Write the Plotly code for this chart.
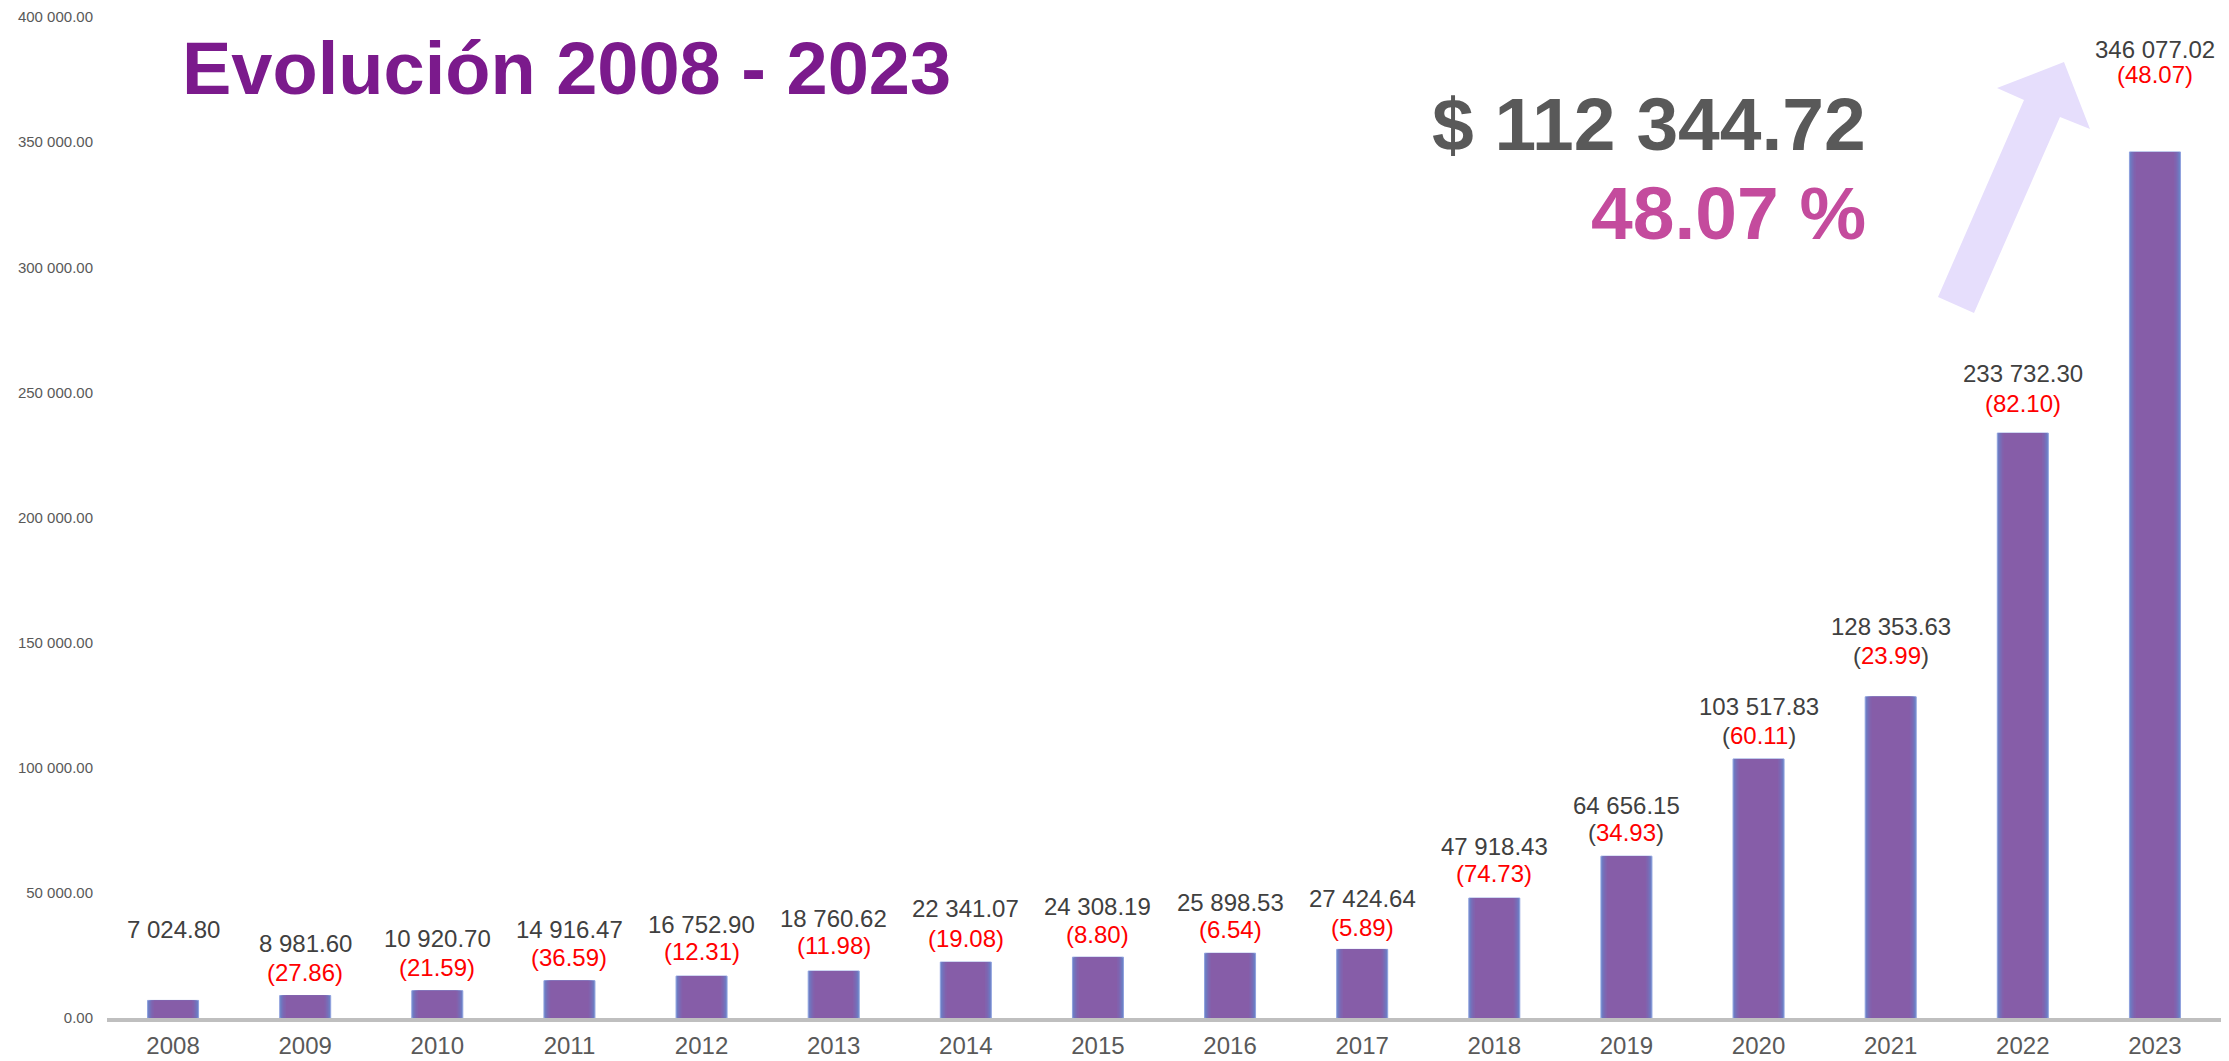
import plotly.graph_objects as go

# ---------------- data ----------------
years = ["2008", "2009", "2010", "2011", "2012", "2013", "2014", "2015",
         "2016", "2017", "2018", "2019", "2020", "2021", "2022", "2023"]
values = [7024.80, 8981.60, 10920.70, 14916.47, 16752.90, 18760.62, 22341.07, 24308.19,
          25898.53, 27424.64, 47918.43, 64656.15, 103517.83, 128353.63, 233732.30, 346077.02]
growth = [None, 27.86, 21.59, 36.59, 12.31, 11.98, 19.08, 8.80,
          6.54, 5.89, 74.73, 34.93, 60.11, 23.99, 82.10, 48.07]
y_ticks = [0, 50000, 100000, 150000, 200000, 250000, 300000, 350000, 400000]
title_text = "Evolución 2008 - 2023"
diff_text = "$ 112 344.72"
pct_text = "48.07 %"

# label placement (pixels above bar top): value line, growth line
value_shift = [71, 52, 52, 51, 52, 53, 54, 51, 51, 51, 52, 51, 52, 70, 60, 102]
growth_shift = [0, 23, 23, 23, 25, 26, 24, 23, 24, 22, 25, 24, 23, 41, 30, 77]
dark_parens = [False] * 11 + [True, True, True, False, False]

# ---------------- layout geometry ----------------
W, H = 2229, 1061
ML, MR, MT, MB = 107, 8, 17, 43
PW, PH = W - ML - MR, H - MT - MB
FONT = "Liberation Sans, Arial, sans-serif"


def px(x):
    return (x - ML) / PW


def py(y):
    return (H - MB - y) / PH


def fmt(v):
    return f"{v:,.2f}".replace(",", " ")


fig = go.Figure()

# gradient-like bars: overlay layers from blue edges to purple centre
layers = [(0.386, "#6C84C6", "#8FA0DE", 1),
          (0.37, "#7079C0", None, 0),
          (0.352, "#766FB9", None, 0),
          (0.334, "#7C68B3", None, 0),
          (0.314, "#8262AD", None, 0),
          (0.29, "#865DA8", None, 0)]
for w, c, lc, lw in layers:
    fig.add_trace(go.Bar(
        x=years, y=values, width=w,
        marker=dict(color=c, line=dict(color=lc or c, width=lw)),
        hoverinfo="skip", showlegend=False))

# data labels (x given as category index)
for i, (v, g, sv, sg, dp) in enumerate(zip(values, growth, value_shift, growth_shift, dark_parens)):
    fig.add_annotation(x=i, y=v, xref="x", yref="y", text=fmt(v), showarrow=False,
                       yshift=sv, yanchor="middle",
                       font=dict(family=FONT, size=24, color="#404040"))
    if g is not None:
        if dp:
            t = f"(<span style='color:#FF0000'>{g:.2f}</span>)"
            col = "#404040"
        else:
            t = f"({g:.2f})"
            col = "#FF0000"
        fig.add_annotation(x=i, y=v, xref="x", yref="y", text=t, showarrow=False,
                           yshift=sg, yanchor="middle",
                           font=dict(family=FONT, size=24, color=col))

# title and highlight texts
fig.add_annotation(x=px(180), y=py(68), xref="paper", yref="paper", text=f"<b>{title_text}</b>",
                   showarrow=False, xanchor="left", yanchor="middle",
                   font=dict(family=FONT, size=74, color="#7B1A8C"))
fig.add_annotation(x=px(1868), y=py(124), xref="paper", yref="paper", text=f"<b>{diff_text}</b>",
                   showarrow=False, xanchor="right", yanchor="middle",
                   font=dict(family=FONT, size=75, color="#595959"))
fig.add_annotation(x=px(1868), y=py(213), xref="paper", yref="paper", text=f"<b>{pct_text}</b>",
                   showarrow=False, xanchor="right", yanchor="middle",
                   font=dict(family=FONT, size=75, color="#C44B9D"))

# decorative arrow
pts = [(1938, 297), (2024, 100), (1997, 88), (2064, 62), (2090, 129), (2060, 117), (1974, 313)]
path = "M " + " L ".join(f"{px(a):.5f},{py(b):.5f}" for a, b in pts) + " Z"
fig.add_shape(type="path", path=path, xref="paper", yref="paper",
              fillcolor="#E6DEFC", line=dict(width=0), layer="below")

fig.update_layout(
    width=W, height=H,
    margin=dict(l=ML, r=MR, t=MT, b=MB, pad=0, autoexpand=False),
    paper_bgcolor="white", plot_bgcolor="white",
    barmode="overlay", bargap=0.6,
    showlegend=False,
    font=dict(family=FONT),
)
fig.update_xaxes(type="category", range=[-0.5, len(years) - 0.5], showgrid=False,
                 automargin=False,
                 showline=True, linecolor="#BFBFBF", linewidth=4,
                 ticks="", tickfont=dict(family=FONT, size=24, color="#595959"),
                 ticklabelstandoff=3)
fig.update_yaxes(range=[0, 400000], showgrid=False, zeroline=False, showline=False,
                 automargin=False,
                 tickvals=y_ticks, ticktext=[fmt(t) for t in y_ticks],
                 tickfont=dict(family=FONT, size=15, color="#595959"),
                 ticklabelstandoff=13)

fig.write_html("out.html")
